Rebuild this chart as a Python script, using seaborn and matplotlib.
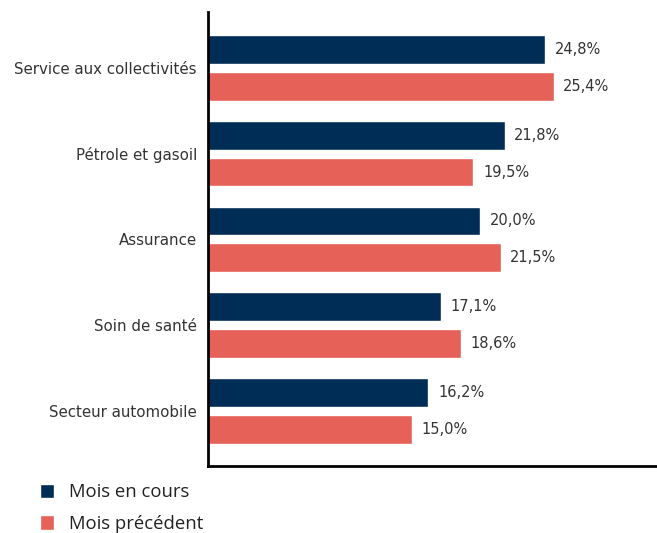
import seaborn as sns
import matplotlib.pyplot as plt
import pandas as pd
from matplotlib.patches import Patch

categories = ["Service aux collectivités", "Pétrole et gasoil", "Assurance",
              "Soin de santé", "Secteur automobile"]
current = [24.8, 21.8, 20.0, 17.1, 16.2]
previous = [25.4, 19.5, 21.5, 18.6, 15.0]
series = ["Mois en cours", "Mois précédent"]
colors = ["#002D56", "#E66157"]

df = pd.DataFrame({
    "cat": categories * 2,
    "val": current + previous,
    "serie": [series[0]] * 5 + [series[1]] * 5,
})

sns.set_style("white")
plt.rcParams["font.family"] = ["DejaVu Sans"]

fig = plt.figure(figsize=(6.57, 5.33), dpi=100)
ax = fig.add_axes([0.3166, 0.1257, 0.6834, 0.8518])

sns.barplot(data=df, y="cat", x="val", hue="serie", palette=colors,
            saturation=1, orient="h", width=0.86, gap=0.22, legend=False, ax=ax)

for cont in ax.containers:
    labels = [f"{v:.1f}%".replace(".", ",") for v in cont.datavalues]
    ax.bar_label(cont, labels=labels, padding=7, fontsize=10.5, color="#333333")

ax.set_xlim(0, 33)
ax.set_ylim(4.64, -0.65)
ax.set_xlabel("")
ax.set_ylabel("")
ax.set_xticks([])
ax.tick_params(axis="y", length=0, pad=8, labelsize=10.8, labelcolor="#333333")
sns.despine(ax=ax, top=True, right=True)
for s in ["left", "bottom"]:
    ax.spines[s].set_color("black")
    ax.spines[s].set_linewidth(2)

handles = [Patch(facecolor=c, label=s) for c, s in zip(colors, series)]
fig.legend(handles=handles, loc="upper left", bbox_to_anchor=(0.035, 0.125),
           frameon=False, prop={"family": "Open Sans", "size": 13.3},
           handlelength=0.8, handleheight=0.8, handletextpad=0.8,
           labelspacing=0.75, labelcolor="#222222")

fig.savefig("out.png", dpi=100)
